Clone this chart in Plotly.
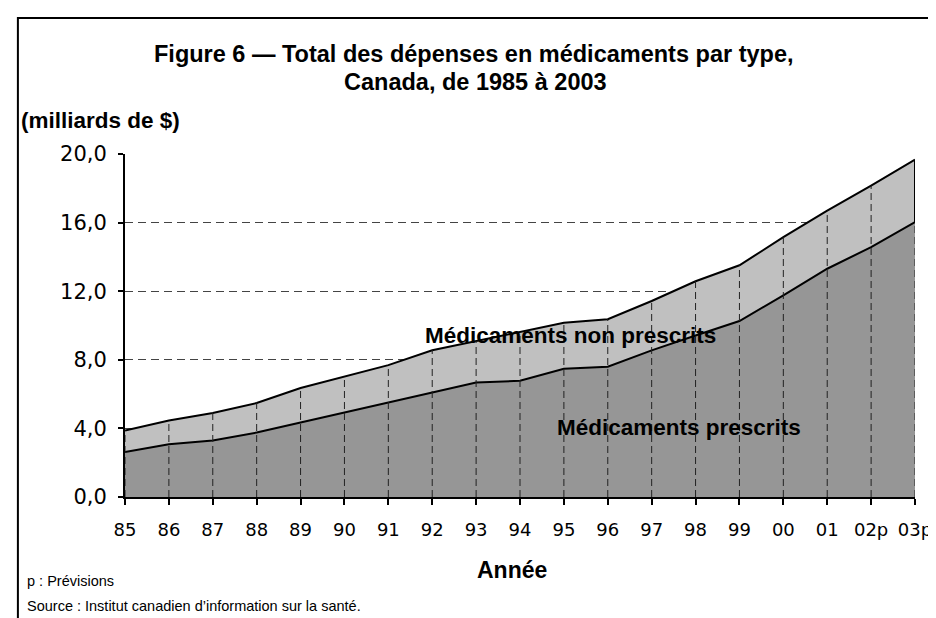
import plotly.graph_objects as go

# ---- data ----
annees = ["85", "86", "87", "88", "89", "90", "91", "92", "93", "94",
          "95", "96", "97", "98", "99", "00", "01", "02p", "03p"]
prescrits = [2.62, 3.08, 3.29, 3.76, 4.34, 4.92, 5.50, 6.07, 6.67, 6.78,
             7.48, 7.60, 8.55, 9.42, 10.26, 11.76, 13.31, 14.57, 16.03]
non_prescrits = [1.26, 1.38, 1.61, 1.72, 2.02, 2.10, 2.19, 2.49, 2.43, 2.82,
                 2.68, 2.77, 2.88, 3.16, 3.25, 3.39, 3.39, 3.59, 3.64]
y_ticks = [0, 4, 8, 12, 16, 20]

totaux = [p + n for p, n in zip(prescrits, non_prescrits)]

W, H = 936, 618
ML, MR, MT, MB = 117, 15, 146, 129
PW = W - ML - MR
PH = H - MT - MB


def px(xp):
    return (xp - ML) / PW


def py(yp):
    return (H - MB - yp) / PH


LINE = "#000000"
FONT = "Liberation Sans, Arial, sans-serif"
TICKFONT = "DejaVu Sans, Verdana, sans-serif"

fig = go.Figure()

fig.add_trace(go.Scatter(
    x=annees, y=prescrits, stackgroup="s", mode="lines",
    line=dict(color=LINE, width=2), fillcolor="#969696",
    name="Médicaments prescrits", hoverinfo="skip"))
fig.add_trace(go.Scatter(
    x=annees, y=non_prescrits, stackgroup="s", mode="lines",
    line=dict(color=LINE, width=2), fillcolor="#c0c0c0",
    name="Médicaments non prescrits", hoverinfo="skip"))

# drop lines from 0 up to the total at each year
dx, dy = [], []
for a, t in zip(annees, totaux):
    dx += [a, a, None]
    dy += [0, t, None]
fig.add_trace(go.Scatter(
    x=dx, y=dy, mode="lines", line=dict(color="#222222", width=1, dash="7px,4px"),
    showlegend=False, hoverinfo="skip"))

# solid right edge of the upper band
fig.add_trace(go.Scatter(
    x=[annees[-1], annees[-1]], y=[prescrits[-1], totaux[-1]], mode="lines",
    line=dict(color=LINE, width=2), showlegend=False, hoverinfo="skip"))

fig.update_layout(
    width=W, height=H,
    margin=dict(l=ML, r=MR, t=MT, b=MB),
    paper_bgcolor="white", plot_bgcolor="white",
    showlegend=False,
    separators=", ",
    font=dict(family=FONT, color="#000000"),
)

fig.update_xaxes(
    type="category", range=[0, len(annees) - 1],
    showgrid=False, zeroline=False,
    showline=True, linecolor=LINE, linewidth=2,
    ticks="outside", ticklen=6, tickwidth=1.5, tickcolor=LINE,
    tickfont=dict(family=TICKFONT, size=18, color="#000"),
    ticklabelstandoff=9,
)
fig.update_yaxes(
    range=[0, 20], tickvals=y_ticks, tickformat=".1f",
    showgrid=True, gridcolor="#444444", gridwidth=1, griddash="8px,5px",
    zeroline=False,
    showline=True, linecolor=LINE, linewidth=2,
    ticks="outside", ticklen=5, tickwidth=1.5, tickcolor=LINE,
    tickfont=dict(family=TICKFONT, size=21, color="#000"),
    ticklabelstandoff=7,
)

ann = [
    dict(text="<b>Figure 6 — Total des dépenses en médicaments par type,</b>",
         x=px(472), y=py(46), size=23.5),
    dict(text="<b>Canada, de 1985 à 2003</b>", x=px(474), y=py(74), size=23.5),
    dict(text="<b>(milliards de $)</b>", x=px(9), y=py(112), size=22.5, xanchor="left"),
    dict(text="<b>Année</b>", x=px(511), y=py(562), size=23),
    dict(text="p : Prévisions", x=px(15), y=py(573), size=14.5, xanchor="left"),
    dict(text="Source : Institut canadien d’information sur la santé.",
         x=px(15), y=py(598), size=14.5, xanchor="left"),
]
for a in ann:
    fig.add_annotation(text=a["text"], xref="paper", yref="paper", x=a["x"], y=a["y"],
                       xanchor=a.get("xanchor", "center"), yanchor="middle",
                       showarrow=False, font=dict(family=FONT, size=a["size"], color="#000"))

fig.add_annotation(text="<b>Médicaments non prescrits</b>", x=10.14, y=9.39,
                   xref="x", yref="y", showarrow=False,
                   font=dict(family=FONT, size=22.5, color="#000"))
fig.add_annotation(text="<b>Médicaments prescrits</b>", x=12.63, y=4.05,
                   xref="x", yref="y", showarrow=False,
                   font=dict(family=FONT, size=22.5, color="#000"))

# outer frame (left and top edges visible)
fig.add_shape(type="rect", xref="paper", yref="paper",
              x0=px(8), y0=py(640), x1=px(960), y1=py(10),
              line=dict(color="#000000", width=2), layer="above")

fig.write_html("out.html")
